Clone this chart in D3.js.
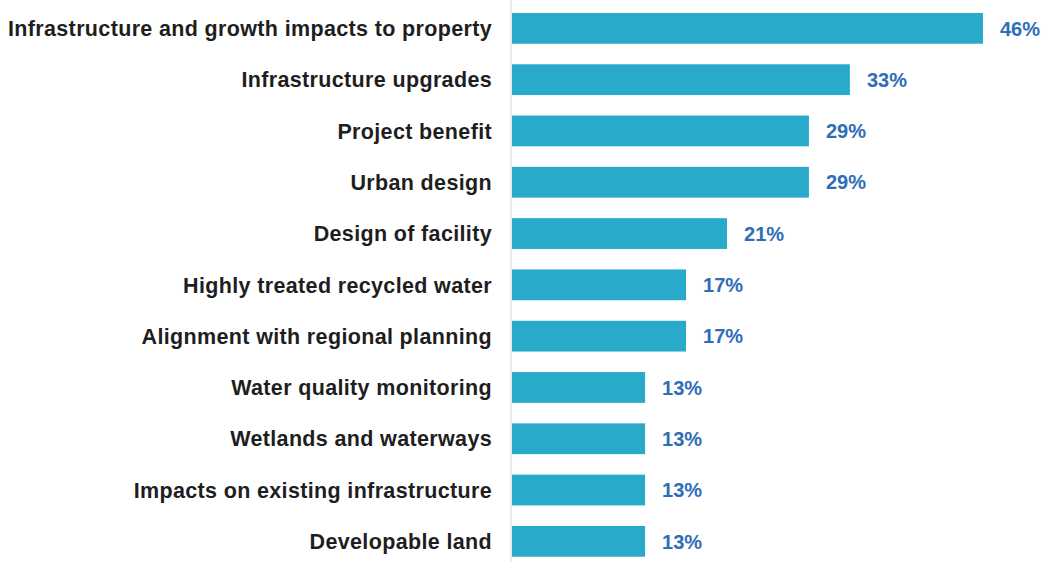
<!DOCTYPE html>
<html>
<head>
<meta charset="utf-8">
<script src="https://cdn.jsdelivr.net/npm/d3@7"></script>
<style>
  body { margin: 0; background: #fff; }
  svg { display: block; }
</style>
</head>
<body>
<script>
// Chart data
var categories = [
  "Infrastructure and growth impacts to property",
  "Infrastructure upgrades",
  "Project benefit",
  "Urban design",
  "Design of facility",
  "Highly treated recycled water",
  "Alignment with regional planning",
  "Water quality monitoring",
  "Wetlands and waterways",
  "Impacts on existing infrastructure",
  "Developable land"
];
var values = [46, 33, 29, 29, 21, 17, 17, 13, 13, 13, 13];

var svgWidth = 1043;
var svgHeight = 562;

var svg = d3.select("body")
  .append("svg")
  .attr("width", svgWidth)
  .attr("height", svgHeight);

// Scales
var xScale = d3.scaleLinear().domain([0, 46]).range([512, 983]);
var yScale = d3.scaleBand()
  .domain(categories)
  .range([2.7, 567])
  .paddingInner(0.4)
  .paddingOuter(0.2);

// Vertical axis line
svg.append("line")
  .attr("x1", 511).attr("x2", 511)
  .attr("y1", 0).attr("y2", svgHeight)
  .attr("stroke", "#dbe7f1")
  .attr("stroke-width", 1.5);

// Bars
svg.selectAll("rect.bar")
  .data(values)
  .enter()
  .append("rect")
  .attr("class", "bar")
  .attr("x", xScale(0))
  .attr("y", function (d, i) { return yScale(categories[i]); })
  .attr("width", function (d) { return xScale(d) - xScale(0); })
  .attr("height", yScale.bandwidth())
  .attr("fill", "#2aaacb");

// Category labels
svg.selectAll("text.cat")
  .data(categories)
  .enter()
  .append("text")
  .attr("class", "cat")
  .attr("x", 492)
  .attr("y", function (d) { return yScale(d) + yScale.bandwidth() / 2; })
  .attr("dy", "0.36em")
  .attr("text-anchor", "end")
  .attr("font-family", "Liberation Sans, Arial, sans-serif")
  .attr("font-weight", "bold")
  .attr("font-size", "21.5px")
  .attr("letter-spacing", "0.35px")
  .attr("fill", "#1e1e1e")
  .text(function (d) { return d; });

// Value labels
svg.selectAll("text.val")
  .data(values)
  .enter()
  .append("text")
  .attr("class", "val")
  .attr("x", function (d) { return xScale(d) + 17; })
  .attr("y", function (d, i) { return yScale(categories[i]) + yScale.bandwidth() / 2; })
  .attr("dy", "0.36em")
  .attr("font-family", "Liberation Sans, Arial, sans-serif")
  .attr("font-weight", "bold")
  .attr("font-size", "20px")
  .attr("fill", "#2f6db8")
  .text(function (d) { return d + "%"; });
</script>
</body>
</html>
